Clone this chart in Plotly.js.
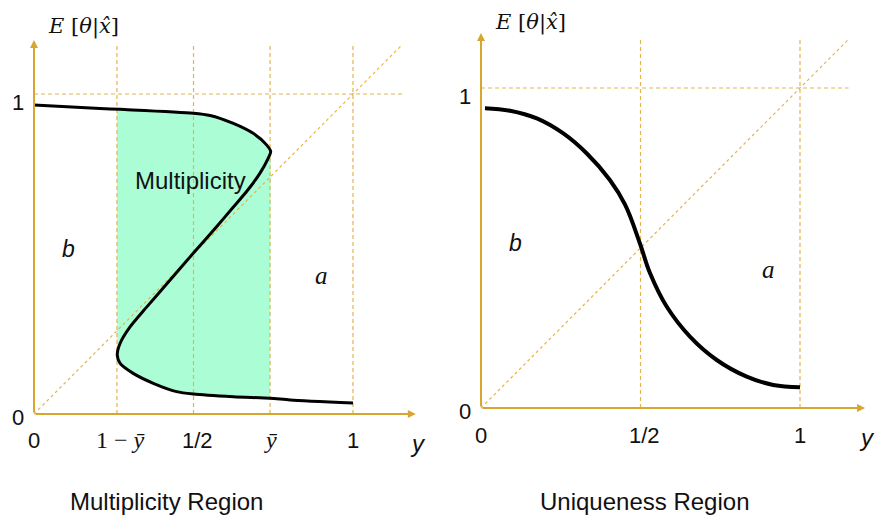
<!DOCTYPE html>
<html>
<head>
<meta charset="utf-8">
<script src="https://cdn.plot.ly/plotly-3.0.1.min.js"></script>
<style>html,body{margin:0;padding:0;background:#fff}</style>
</head>
<body>
<div id="chart" style="width:875px;height:521px"></div>
<script>
// ---------- data ----------
const YBAR = 0.74;

// Multiplicity region: S-shaped response, split into its three branches
const upperX  = [0.000, 0.207, 0.270, 0.499, 0.552, 0.625, 0.687, 0.729, 0.742];
const upperY  = [0.966, 0.955, 0.952, 0.940, 0.933, 0.908, 0.877, 0.841, 0.820];
const middleX = [0.734, 0.708, 0.667, 0.625, 0.573, 0.499, 0.426, 0.353, 0.301, 0.270, 0.261];
const middleY = [0.799, 0.752, 0.696, 0.647, 0.586, 0.502, 0.418, 0.334, 0.272, 0.221, 0.184];
const lowerX  = [0.270, 0.311, 0.374, 0.447, 0.499, 0.625, 0.740, 0.803, 1.000];
const lowerY  = [0.158, 0.127, 0.096, 0.070, 0.0625, 0.054, 0.049, 0.044, 0.034];

// Uniqueness region: monotone decreasing response
const uniqX = [0.0125, 0.091, 0.175, 0.258, 0.331, 0.404, 0.452, 0.498, 0.530, 0.582, 0.655, 0.739, 0.833, 0.916, 1.000];
const uniqY = [0.937, 0.929, 0.905, 0.858, 0.796, 0.7125, 0.635, 0.515, 0.421, 0.317, 0.223, 0.150, 0.098, 0.072, 0.065];

// tick positions and labels
const leftTicks     = [0, 1 - YBAR, 0.5, YBAR, 1];
const leftTickText  = ['0', '1 − ȳ', '1/2', 'ȳ', '1'];
const rightTicks    = [0, 0.5, 1];
const rightTickText = ['0', '1/2', '1'];
const yTicks        = [0, 1];
const yTickText     = ['0', '1'];

// region labels
const panelTitles = ['Multiplicity Region', 'Uniqueness Region'];

// ---------- styling ----------
const W = 875, H = 521;
const SANS  = 'Liberation Sans, Arial, sans-serif';
const SERIF = 'Liberation Serif, DejaVu Serif, serif';
const AXIS_COLOR  = '#d8a52e';
const GUIDE_COLOR = '#e2b54e';
const FILL_COLOR  = '#abfdd5';

// panel geometry: pixel of data 0 and data 1 on each axis
const panels = [
  {xa: 'x',  ya: 'y',  x0: 34,  x1: 353, y0: 414, y1: 94, xr: [-0.1, 1.28], yr: [-0.25, 1.25],
   xTip: 1.197, yTip: 1.169, guideTop: 1.155},
  {xa: 'x2', ya: 'y2', x0: 481, x1: 800, y0: 408, y1: 88, xr: [-0.1, 1.22], yr: [-0.25, 1.25],
   xTip: 1.204, yTip: 1.172, guideTop: 1.152}
];

function xDomain(p) {
  const s = p.x1 - p.x0;
  return [(p.x0 + p.xr[0] * s) / W, (p.x0 + p.xr[1] * s) / W];
}
function yDomain(p) {
  const s = p.y0 - p.y1, base = H - p.y0;
  return [(base + p.yr[0] * s) / H, (base + p.yr[1] * s) / H];
}

function hiddenAxis(range, domain, anchor) {
  return {range: range, domain: domain, anchor: anchor, visible: false, fixedrange: true};
}

function mathLabel(s) {
  // a label containing ȳ is typeset in serif with the variable in italics
  return s.replace('ȳ', '<i>ȳ</i>');
}

// ---------- traces ----------
const traces = [];

// shaded multiplicity band between the upper and lower branches
const fillX = [], fillY = [];
const lo = 1 - YBAR;
let firstUpper = true;
upperX.forEach((x, i) => {
  if (x >= lo) {
    if (firstUpper) { fillX.push(lo); fillY.push(upperY[i]); firstUpper = false; }
    fillX.push(x); fillY.push(upperY[i]);
  }
});
for (let i = lowerX.length - 1; i >= 0; i--) {
  if (lowerX[i] <= YBAR + 1e-9) { fillX.push(lowerX[i]); fillY.push(lowerY[i]); }
}
fillX.push(middleX[middleX.length - 1]); fillY.push(middleY[middleY.length - 1]);
traces.push({x: fillX, y: fillY, xaxis: 'x', yaxis: 'y', mode: 'lines', fill: 'toself',
  fillcolor: FILL_COLOR, line: {width: 0, color: FILL_COLOR}, hoverinfo: 'skip'});

// dashed guides: verticals at the x ticks, horizontal at 1, and the 45° line
function guides(p, ticks) {
  const gl = {color: GUIDE_COLOR, width: 1.2, dash: '4px,3px'};
  ticks.forEach(v => {
    if (v > 0) traces.push({x: [v, v], y: [0, p.guideTop], xaxis: p.xa, yaxis: p.ya,
      mode: 'lines', line: gl, hoverinfo: 'skip'});
  });
  traces.push({x: [0, p.guideTop], y: [1, 1], xaxis: p.xa, yaxis: p.ya,
    mode: 'lines', line: gl, hoverinfo: 'skip'});
  traces.push({x: [0, p.guideTop], y: [0, p.guideTop], xaxis: p.xa, yaxis: p.ya,
    mode: 'lines', line: {color: GUIDE_COLOR, width: 1.2, dash: '3px,3px'}, hoverinfo: 'skip'});
}
guides(panels[0], leftTicks);
guides(panels[1], rightTicks);

// response curves
traces.push({x: upperX.concat(middleX, lowerX), y: upperY.concat(middleY, lowerY),
  xaxis: 'x', yaxis: 'y', mode: 'lines',
  line: {color: '#000', width: 3, shape: 'spline', smoothing: 0.7}, hoverinfo: 'skip'});
traces.push({x: uniqX, y: uniqY, xaxis: 'x2', yaxis: 'y2', mode: 'lines',
  line: {color: '#000', width: 4, shape: 'spline', smoothing: 1.1}, hoverinfo: 'skip'});

// ---------- annotations ----------
const ann = [];
function label(p, x, y, text, font, extra) {
  ann.push(Object.assign({xref: p.xa, yref: p.ya, x: x, y: y, text: text, showarrow: false,
    xanchor: 'center', yanchor: 'middle', font: font}, extra || {}));
}
function axisArrow(p, x, y) {
  ann.push({xref: p.xa, yref: p.ya, axref: p.xa, ayref: p.ya, x: x, y: y, ax: 0, ay: 0,
    text: '', showarrow: true, arrowhead: 2, arrowsize: 0.8, arrowwidth: 2,
    arrowcolor: AXIS_COLOR, standoff: 0, startstandoff: 0});
}

const tickFont = {family: SANS, size: 22, color: '#111'};
const mathFont = {family: SERIF, size: 24, color: '#111'};

[[panels[0], leftTicks, leftTickText], [panels[1], rightTicks, rightTickText]].forEach(([p, vals, texts], k) => {
  axisArrow(p, p.xTip, 0);
  axisArrow(p, 0, p.yTip);
  vals.forEach((v, i) => {
    const isMath = texts[i].indexOf('ȳ') >= 0;
    label(p, v, 0, isMath ? mathLabel(texts[i]) : texts[i], isMath ? mathFont : tickFont,
      {yshift: k === 0 ? -26 : -27, xshift: texts[i].length > 2 ? 4 : 0});
  });
  yTicks.forEach((v, i) => {
    label(p, 0, v, yTickText[i], tickFont, {xshift: -16, yshift: v === 0 ? -3 : -9});
  });
  // axis names
  label(p, p.xTip, 0, '<i>y</i>', {family: SANS, size: 24, color: '#111'},
    {xshift: 2, yshift: -29});
  label(p, 0, p.yTip, '<i>E</i> [<i>θ</i>|<i>x̂</i>]', {family: 'DejaVu Serif, serif', size: 21, color: '#111'},
    {xanchor: 'left', xshift: 12, yshift: k === 0 ? 13 : 10});
  // region labels
  label(p, 0.107, 0.517, '<i>b</i>', {family: SANS, size: 23, color: '#111'});
  label(p, 0.902, 0.433, '<i>a</i>', {family: SERIF, size: 25, color: '#111'});
});

label(panels[0], 0.492, 0.731, 'Multiplicity', {family: SANS, size: 24, color: '#111'});

// panel titles under each chart
[166, 644].forEach((cx, i) => {
  ann.push({xref: 'paper', yref: 'paper', x: cx / W, y: 1 - 501 / H, text: panelTitles[i],
    showarrow: false, xanchor: 'center', yanchor: 'middle',
    font: {family: SANS, size: 24, color: '#111'}});
});

const layout = {
  width: W, height: H,
  margin: {l: 0, r: 0, t: 0, b: 0},
  paper_bgcolor: '#fff', plot_bgcolor: 'rgba(0,0,0,0)',
  showlegend: false,
  xaxis:  hiddenAxis(panels[0].xr, xDomain(panels[0]), 'y'),
  yaxis:  hiddenAxis(panels[0].yr, yDomain(panels[0]), 'x'),
  xaxis2: hiddenAxis(panels[1].xr, xDomain(panels[1]), 'y2'),
  yaxis2: hiddenAxis(panels[1].yr, yDomain(panels[1]), 'x2'),
  annotations: ann
};

Plotly.newPlot('chart', traces, layout, {staticPlot: true, displayModeBar: false});
</script>
</body>
</html>
